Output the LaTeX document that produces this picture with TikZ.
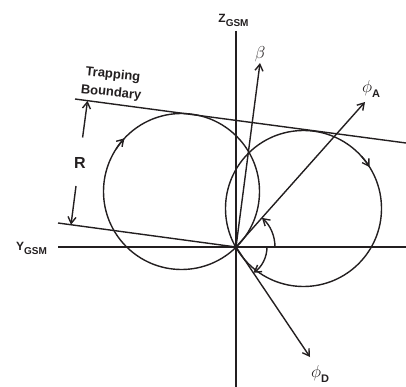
\documentclass[tikz,border=0pt]{standalone}
\usepackage{fontspec}
\setmainfont{Liberation Sans}
\usetikzlibrary{arrows.meta}
\definecolor{ink}{HTML}{231F20}
\begin{document}
\begin{tikzpicture}[x=1pt,y=1pt,line width=1.4pt,draw=ink,text=ink,
  >={Straight Barb[length=6.5pt,width=8pt]},
  lbl/.style={inner sep=0pt,font=\bfseries}]
\useasboundingbox (0,0) rectangle (406,-387);
% key points
\coordinate (O) at (236,-247);
\coordinate (ztop) at (236,-31);
\coordinate (zbot) at (236,-387);
\coordinate (yl) at (58,-247);
\coordinate (yr) at (406,-247);
\coordinate (tb1) at (75,-99);
\coordinate (tb2) at (406,-143);
\coordinate (lb1) at (58,-223);
\coordinate (cL) at (181.5,-191.5);
\coordinate (cR) at (303.5,-208.5);
\coordinate (betaT) at (260,-63);
\coordinate (phiAT) at (365,-102);
\coordinate (phiDT) at (310,-357);
\coordinate (ru1) at (82.6,-137.5);
\coordinate (ru2) at (87.5,-100.8);
\coordinate (rl1) at (76,-186);
\coordinate (rl2) at (71,-224.7);
% axes
\draw (ztop) -- (zbot);
\draw (yl) -- (yr);
% trapping boundary and lower line
\draw (tb1) -- (tb2);
\draw (lb1) -- (O);
% circles
\draw (cL) circle[radius=78];
\draw (cR) circle[radius=78];
\draw[->] ([shift={(147:78)}]cL) arc[start angle=147,end angle=137,radius=78];
\draw[->] ([shift={(42:78)}]cR) arc[start angle=42,end angle=32,radius=78];
% vectors
\draw[->] (O) -- (betaT);
\draw[->] (O) -- (phiAT);
\draw[->] (O) -- (phiDT);
% angle arcs
\draw[->] ([shift={(0:39)}]O) arc[start angle=0,end angle=48.3,radius=39];
\draw[->] ([shift={(0:31)}]O) arc[start angle=0,end angle=-56,radius=31];
% R arrows
\draw[->] (ru1) -- (ru2);
\draw[->] (rl1) -- (rl2);
% labels
\node[lbl,font=\bfseries\fontsize{16}{16}\selectfont] (R) at (80,-163) {R};
\node[lbl,font=\bfseries\fontsize{13}{18}\selectfont,align=center,rotate=-6] (tb) at (112,-84) {Trapping\\Boundary};
\node[lbl,font=\bfseries\fontsize{12}{12}\selectfont] (zl) at (233.5,-20) {Z\raisebox{-4pt}{\fontsize{10}{10}\selectfont GSM}};
\node[lbl,font=\bfseries\fontsize{12}{12}\selectfont] (yl2) at (31.5,-248.5) {Y\raisebox{-4pt}{\fontsize{10}{10}\selectfont GSM}};
\node[lbl,font=\fontsize{18}{18}\selectfont] (bl) at (260,-54) {$\beta$};
\node[lbl,font=\fontsize{17}{17}\selectfont] (pal) at (371,-89) {$\phi$\raisebox{-5pt}{\fontsize{11}{11}\selectfont\bfseries A}};
\node[lbl,font=\fontsize{17}{17}\selectfont] (pdl) at (320,-374) {$\phi$\raisebox{-5pt}{\fontsize{11}{11}\selectfont\bfseries D}};
\end{tikzpicture}
\end{document}
